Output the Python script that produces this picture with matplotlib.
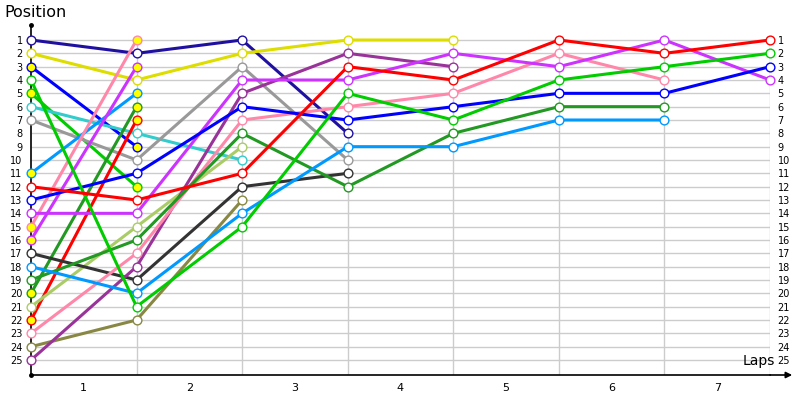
import numpy as np
import matplotlib.pyplot as plt
from matplotlib import rcParams

rcParams['font.family'] = 'DejaVu Sans'

# ------------- data -------------------

laps = [1, 2, 3, 4, 5, 6, 7]
positions = list(range(1, 26))

# position after each lap (lap 0 = grid), colour, yellow marker fill
navy = [1, 2, 1, 8]
yellow = [2, 4, 2, 1, 1]
blue_b = [3, 9]
green = [4, 21, 15, 5, 7, 4, 3, 2]
green_b = [5, 12]
cyan = [6, 8, 10]
gray = [7, 10, 3, 10]
lblue_b = [11, 5]
red = [12, 13, 11, 3, 4, 1, 2, 1]
blue = [13, 11, 6, 7, 6, 5, 5, 3]
magenta = [14, 14, 4, 4, 2, 3, 1, 4]
pink_b = [15, 1]
magenta_b = [16, 3]
dgray = [17, 19, 12, 11]
lblue = [18, 20, 14, 9, 9, 7, 7]
dgreen = [19, 16, 8, 12, 8, 6, 6]
dgreen_b = [20, 6]
olive_l = [21, 15, 9]
red_b = [22, 7]
pink = [23, 17, 7, 6, 5, 2, 4]
olive = [24, 22, 13]
purple = [25, 18, 5, 2, 3]

series = [
    (navy, '#2010a0', False),
    (yellow, '#dddd00', False),
    (blue_b, '#0000ff', True),
    (green_b, '#00cc00', True),
    (cyan, '#33cccc', False),
    (gray, '#999999', False),
    (lblue_b, '#0099ff', True),
    (pink_b, '#ff88aa', True),
    (magenta_b, '#cc33ff', True),
    (dgreen_b, '#229922', True),
    (red_b, '#ff0000', True),
    (olive_l, '#aacc66', False),
    (olive, '#888844', False),
    (dgray, '#333333', False),
    (purple, '#993399', False),
    (pink, '#ff88aa', False),
    (dgreen, '#229922', False),
    (lblue, '#0099ff', False),
    (magenta, '#cc33ff', False),
    (blue, '#0000ff', False),
    (green, '#00cc00', False),
    (red, '#ff0000', False),
]

# ------------- plot -------------------

fig = plt.figure(figsize=(8, 4), dpi=100)
ax = fig.add_axes([31/800, 1 - 375/400, (770 - 31)/800, 350/400])
ymin, ymax = -0.125, 26.125
ax.set_xlim(0, 7)
ax.set_ylim(ymax, ymin)

ax.hlines(positions, 0, 7, color='#cccccc', lw=1, zorder=1)
ax.vlines(laps, 1, ymax, color='#cccccc', lw=1, zorder=1)

for pos, col, pit in series:
    ax.plot(range(len(pos)), pos, color=col, lw=2.2, marker='o', ms=6.3,
            mfc='#ffff00' if pit else 'white', mec=col, mew=1.0,
            clip_on=False, zorder=3)

for s in ['top', 'right']:
    ax.spines[s].set_visible(False)
ax.spines['left'].set_linewidth(1.2)
ax.spines['bottom'].set_linewidth(1.2)

ax.set_yticks(positions)
ax.set_yticklabels([str(p) for p in positions], fontsize=7)
ax.tick_params(axis='y', length=0, pad=6)
ax.set_xticks([l - 0.5 for l in laps])
ax.set_xticklabels([str(l) for l in laps], fontsize=8)
ax.tick_params(axis='x', length=0, pad=6)

ax2 = ax.twinx()
ax2.set_ylim(ymax, ymin)
ax2.set_yticks(positions)
ax2.set_yticklabels([str(p) for p in positions], fontsize=7)
ax2.tick_params(axis='y', length=0, pad=5.5)
for s in ax2.spines.values():
    s.set_visible(False)

# axis arrow and end dots
ax.annotate('', xy=(1.03, 0), xytext=(1.0, 0), xycoords='axes fraction',
            arrowprops=dict(arrowstyle='-|>', color='black', lw=1.2,
                            mutation_scale=9, shrinkA=0, shrinkB=0))
ax.plot([0, 0], [ymin, ymax], 'o', color='black', ms=2.5, clip_on=False, zorder=4)

ax.text(1.0065, 0.02, 'Laps', transform=ax.transAxes, ha='right', va='bottom', fontsize=10)
fig.text(4/800, 1 - 5/400, 'Position', ha='left', va='top', fontsize=11.5)

fig.savefig('out.png', dpi=100)
